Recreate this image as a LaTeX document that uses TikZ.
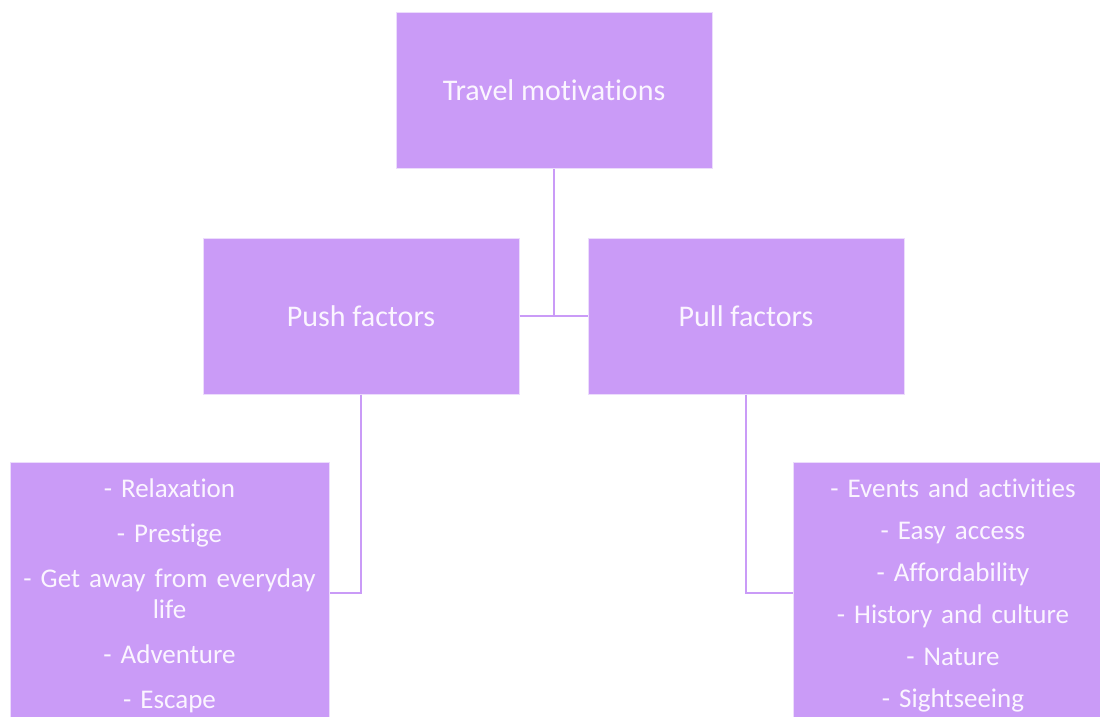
\documentclass[tikz,border=0pt]{standalone}
\usepackage{fontspec}
\setmainfont{Carlito}[Ligatures=NoCommon]
\usetikzlibrary{positioning, calc}
\definecolor{boxlilac}{RGB}{202,155,247}
\definecolor{textlilac}{RGB}{251,245,255}
\definecolor{edgelilac}{RGB}{236,220,252}

\begin{document}
\begin{tikzpicture}[x=1pt, y=-1pt,
        factorbox/.style={fill=boxlilac, draw=edgelilac, line width=1pt, text=textlilac,
            minimum width=316pt, minimum height=156pt, inner sep=0pt,
            font=\fontsize{30}{36}\selectfont},
        listbox/.style={fill=boxlilac, draw=edgelilac, line width=1pt, text=textlilac,
            text width=311pt, inner xsep=4pt, inner ysep=16pt, align=center, anchor=north,
            font=\fontsize{27}{31}\selectfont},
        link/.style={draw=boxlilac, line width=2pt}]
        \clip (0, 0) rectangle (1100, 717);

        % boxes
        \node[factorbox] (travel) at (554, 90.5) {Travel motivations};
        \node[factorbox] (push) at (361, 316) {Push factors};
        \node[factorbox] (pull) at (746, 316) {Pull factors};
        \node[listbox] (pushlist) at (169.5, 462) {- Relaxation\\[14pt]- Prestige\\[14pt]- Get away from everyday\\life\\[14pt]- Adventure\\[14pt]- Escape\\[30pt]};
        \node[listbox] (pulllist) at (953, 462) {- Events and activities\\[11pt]- Easy access\\[11pt]- Affordability\\[11pt]- History and culture\\[11.5pt]- Nature\\[11pt]- Sightseeing\\[30pt]};

        % connectors
        \coordinate (pushjoin) at (361, 593);
        \coordinate (pulljoin) at (746, 593);
        \draw[link] (travel.south) -- (travel.south |- push.east);
        \draw[link] (push.east) -- (pull.west);
        \draw[link] (push.south) -- (pushjoin) -- (pushjoin -| pushlist.east);
        \draw[link] (pull.south) -- (pulljoin) -- (pulljoin -| pulllist.west);
    \end{tikzpicture}
\end{document}
